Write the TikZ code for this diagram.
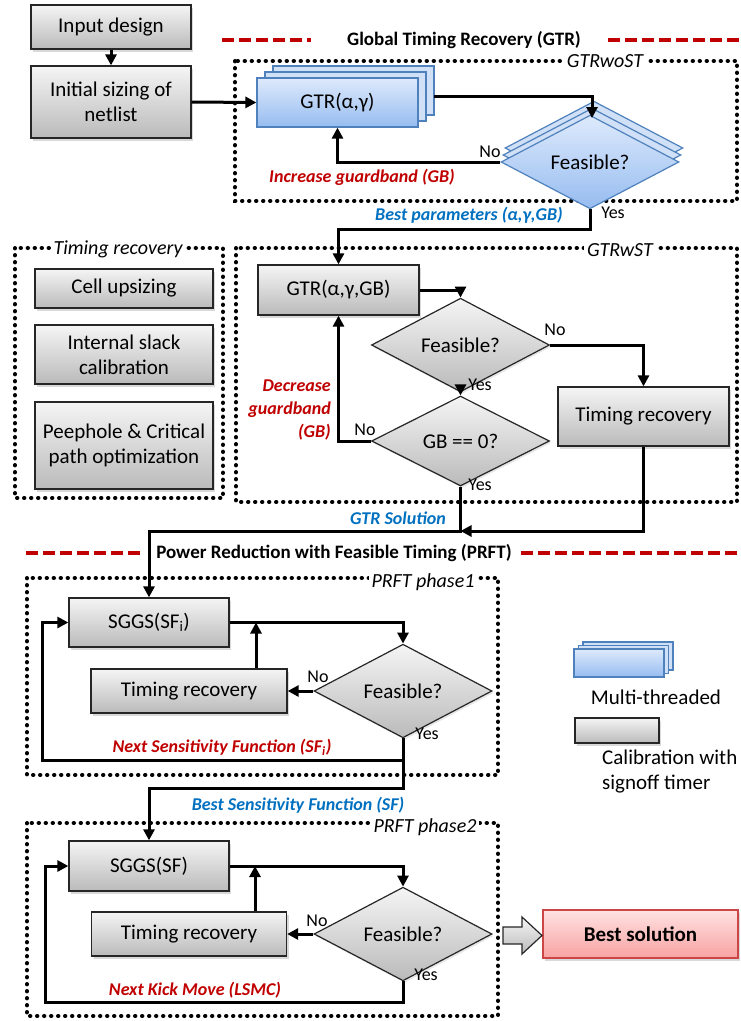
\documentclass[tikz,border=0pt]{standalone}
\usepackage{fontspec}
\setmainfont{Carlito}
\usepackage{tikz}
\usetikzlibrary{shapes.geometric, arrows.meta, shadows, positioning}

\definecolor{blueB}{RGB}{79,129,189}
\definecolor{blueTop}{RGB}{222,234,252}
\definecolor{blueBot}{RGB}{150,188,240}
\definecolor{blueL}{RGB}{208,224,246}
\definecolor{redT}{RGB}{192,0,0}
\definecolor{blueT}{RGB}{0,112,192}
\definecolor{pinkTop}{RGB}{255,226,226}
\definecolor{pinkBot}{RGB}{248,162,162}
\definecolor{redB}{RGB}{205,70,70}

\tikzset{>={Triangle[length=11pt,width=11pt]}}
\tikzset{
  box/.style={draw=black!85, line width=1.3pt, top color=black!4, bottom color=black!27,
    drop shadow={shadow xshift=2pt, shadow yshift=-2.5pt, opacity=.3}, align=center},
  stackbox/.style 2 args={double copy shadow={shadow xshift=#1, shadow yshift=#2,
    fill=blueL, draw=blueB, line width=1.2pt}},
  bluebox/.style={draw=blueB, line width=1.2pt, top color=blueTop, bottom color=blueBot},
  dia/.style={diamond, minimum width=178pt, minimum height=62pt, inner sep=0pt},
  decide/.style={dia, draw=black!85, line width=1.2pt, top color=black!4, bottom color=black!27,
    drop shadow={shadow xshift=1.5pt, shadow yshift=-2pt, opacity=.2}},
  bluedecide/.style={dia, bluebox, stackbox={2pt}{7pt}},
  bestbox/.style={draw=redB, line width=1.2pt, top color=pinkTop, bottom color=pinkBot,
    drop shadow={shadow xshift=2pt, shadow yshift=-2.5pt, opacity=.3}, font=\fontsize{21}{25}\selectfont\bfseries},
  fatarrow/.style={draw=black!85, line width=1.2pt, top color=black!4, bottom color=black!27},
  flow/.style={line width=3pt, ->},
  frame/.style={line width=4pt, line cap=round, dash pattern=on 0.4pt off 6.6pt},
  framelabel/.style={fill=white, inner sep=3pt, font=\fontsize{20}{24}\selectfont\itshape},
  redline/.style={draw=redT, line width=3.5pt, dash pattern=on 12pt off 5pt},
  heading/.style={font=\fontsize{19}{22}\selectfont\bfseries},
  note/.style={inner sep=0pt, font=\fontsize{18}{23}\selectfont\bfseries\itshape},
  yesno/.style={inner sep=0pt, font=\fontsize{18}{21}\selectfont}
}

\begin{document}
\begin{tikzpicture}[x=1pt, y=-1pt, every node/.style={font=\fontsize{21}{25}\selectfont}]
\useasboundingbox (0,0) rectangle (740,1021);

% --- Dotted frames ---
\draw[frame] (235,61) rectangle (737,201);
\draw[frame] (15,248) rectangle (223,498);
\draw[frame] (236,248) rectangle (737,502);
\draw[frame] (27,578) rectangle (498,775);
\draw[frame] (27,823) rectangle (498,1016);

\node[framelabel] (lwoST) at (605,61) {GTRwoST};
\node[framelabel] (lTR) at (118,249) {Timing recovery};
\node[framelabel] (lwST) at (620,250) {GTRwST};
\node[framelabel] (lph1) at (423,582) {PRFT phase1};
\node[framelabel] (lph2) at (425,827) {PRFT phase2};

% --- Section headings ---
\draw[redline] (222,40) -- (311,40);
\draw[redline] (608,40) -- (740,40);
\node[heading] (hGTR) at (464,40) {Global Timing Recovery (GTR)};

\draw[redline] (26,553) -- (141,553);
\draw[redline] (521,553) -- (740,553);
\node[heading] (hPRFT) at (334,553) {Power Reduction with Feasible Timing (PRFT)};

% --- Start ---
\node[box, minimum width=160pt, minimum height=44pt] (inputd) at (111,27) {Input design};
\node[box, minimum width=160pt, minimum height=72pt] (initsz) at (111,102) {Initial sizing of\\netlist};

% --- GTR without signoff timer ---
\node[bluebox, stackbox={8pt}{6pt}, minimum width=161pt, minimum height=49pt] (gtrA) at (337.5,102.5) {GTR(α,γ)};
\node[bluedecide] (feasA) at (590,162) {Feasible?};

% --- GTR with signoff timer ---
\node[box, minimum width=161pt, minimum height=50pt] (gtrB) at (338.5,290) {GTR(α,γ,GB)};
\node[decide] (feasB) at (460.5,345) {Feasible?};
\node[decide] (gbz) at (460.5,441) {GB == 0?};
\node[box, minimum width=171pt, minimum height=59pt] (trB) at (643.5,416.5) {Timing recovery};

% --- Timing recovery steps ---
\node[box, minimum width=178pt, minimum height=39pt] (cellup) at (124,288.5) {Cell upsizing};
\node[box, minimum width=178pt, minimum height=59pt] (slack) at (124,354.5) {Internal slack\\calibration};
\node[box, minimum width=178pt, minimum height=87pt] (peep) at (124,445.5) {Peephole \& Critical\\path optimization};

% --- PRFT phase 1 ---
\node[box, minimum width=160pt, minimum height=49pt] (sggsA) at (149,622.5) {SGGS(SF\textsubscript{i})};
\node[decide] (feasC) at (403,691) {Feasible?};
\node[box, minimum width=196pt, minimum height=44pt] (trC) at (189,691) {Timing recovery};

% --- PRFT phase 2 ---
\node[box, minimum width=160pt, minimum height=50pt] (sggsB) at (149,866) {SGGS(SF)};
\node[decide] (feasD) at (403,934) {Feasible?};
\node[box, minimum width=195pt, minimum height=44pt] (trD) at (189,934) {Timing recovery};
\node[bestbox, minimum width=195pt, minimum height=48pt] (best) at (640.5,934) {Best solution};

% --- Legend ---
\node[bluebox, stackbox={4.5pt}{3.5pt}, minimum width=90pt, minimum height=28pt] (legMT) at (619,663) {};
\node (legMTtxt) at (656,697) {Multi-threaded};
\node[box, minimum width=84pt, minimum height=25pt] (legCal) at (617,730.5) {};
\node[align=left, anchor=west, inner sep=0pt] (legCaltxt) at (602,772) {Calibration with\\signoff timer};

% --- Helper points ---
\coordinate (gtrAout) at (434,96);
\coordinate (feasAtop) at (592,118);
\coordinate (bestp) at (590,229);
\coordinate (merge) at (460.5,531);
\coordinate (joinA) at (256,622.5);
\coordinate (yesA) at (403,760);
\coordinate (bestsf) at (403,788);
\coordinate (joinB) at (255,866);
\coordinate (kick) at (403,1002);

% --- Connectors ---
\draw[flow] (inputd) -- (initsz);
\draw[flow] (initsz.east) -- (gtrA.west);
\draw[flow] (gtrAout) -| (feasAtop);
\draw[flow] (feasA.west) -| (gtrA.south);
\draw[flow] (feasA.south) -- (bestp) -| (gtrB.north);

\draw[flow] (gtrB.east) -| (feasB.north);
\draw[flow] (feasB.south) -- (gbz.north);
\draw[flow] (gbz.west) -| (gtrB.south);
\draw[flow] (feasB.east) -| (trB.north);
\draw[flow] (trB.south) |- (merge);
\draw[flow] (gbz.south) -- (merge) -| (sggsA.north);

\draw[flow] (sggsA.east) -| (feasC.north);
\draw[flow] (feasC.west) -- (trC.east);
\draw[flow] (trC.north -| joinA) -- (joinA);
\draw[flow] (feasC.south) -- (yesA) -| ([xshift=-26pt]sggsA.west) -- (sggsA.west);
\draw[flow] (yesA) -- (bestsf) -| (sggsB.north);

\draw[flow] (sggsB.east) -| (feasD.north);
\draw[flow] (feasD.west) -- (trD.east);
\draw[flow] (trD.north -| joinB) -- (joinB);
\draw[flow] (feasD.south) -- (kick) -| ([xshift=-23pt]sggsB.west) -- (sggsB.west);

% --- Fat arrow to the result ---
\draw[fatarrow] (503,927) -- (522,927) -- (522,917) -- (542,935.5) -- (522,954) -- (522,944) -- (503,944) -- cycle;

% --- Yes / No ---
\node[yesno] (noA) at (490,152) {No};
\node[yesno] (yesAl) at (613,213) {Yes};
\node[yesno] (noB) at (555,330) {No};
\node[yesno] (yesB) at (480,385) {Yes};
\node[yesno] (noC) at (365,430) {No};
\node[yesno] (yesC) at (480,485) {Yes};
\node[yesno] (noD) at (318,677) {No};
\node[yesno] (yesD) at (427,734) {Yes};
\node[yesno] (noE) at (317,921) {No};
\node[yesno] (yesE) at (426,975) {Yes};

% --- Loop labels ---
\node[note, text=redT] (incGB) at (362,177) {Increase guardband (GB)};
\node[note, text=blueT] (bestP) at (469,215) {Best parameters (α,γ,GB)};
\node[note, text=redT, align=right, anchor=east] (decGB) at (331,410) {Decrease\\guardband\\(GB)};
\node[note, text=blueT] (gtrSol) at (398,518) {GTR Solution};
\node[note, text=redT] (nextSF) at (222,747) {Next Sensitivity Function (SF\textsubscript{i})};
\node[note, text=blueT] (bestSF) at (298,805) {Best Sensitivity Function (SF)};
\node[note, text=redT] (nextKick) at (195,990) {Next Kick Move (LSMC)};

\end{tikzpicture}
\end{document}
